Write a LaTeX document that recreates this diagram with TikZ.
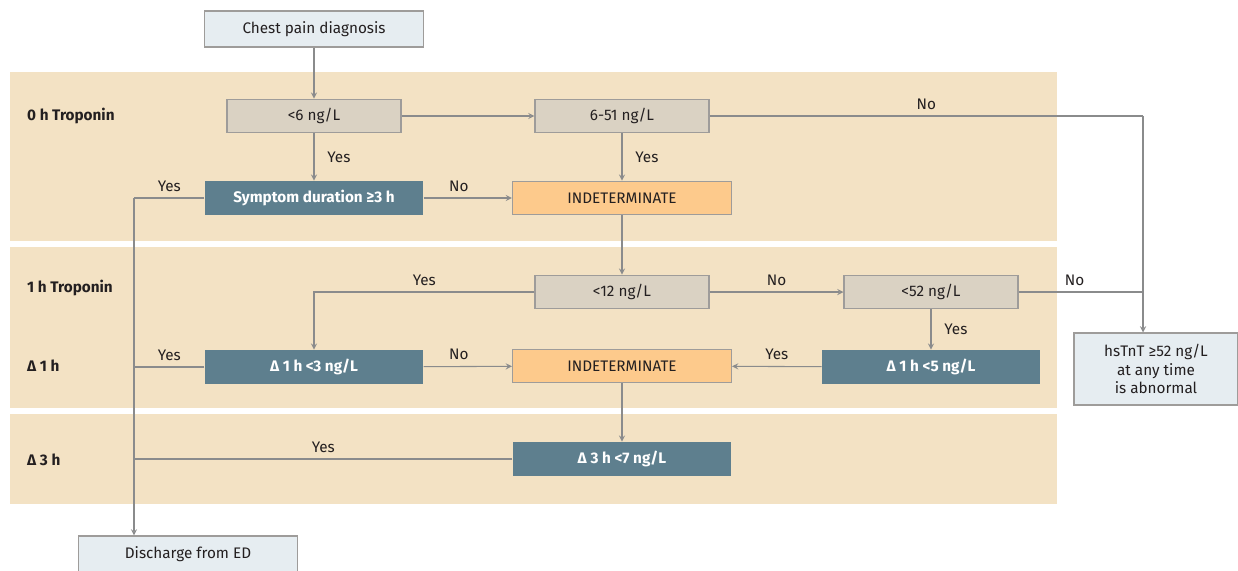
\documentclass[tikz,border=0pt]{standalone}
\usepackage{fontspec}
\setmainfont{Fira Sans}
\definecolor{band}{HTML}{F3E2C4}
\definecolor{greybox}{HTML}{DAD2C3}
\definecolor{tealbox}{HTML}{5E7F8E}
\definecolor{orangebox}{HTML}{FDCA8C}
\definecolor{bluebox}{HTML}{E6EDF1}
\definecolor{edgegrey}{HTML}{9E9C9A}
\definecolor{linegrey}{HTML}{8A8B8C}
\definecolor{ink}{HTML}{231F20}

\begin{document}
\begin{tikzpicture}[x=0.02cm,y=-0.02cm,font=\fontsize{8.7}{10.5}\selectfont,text=ink,
	basebox/.style={draw=edgegrey,line width=0.6pt,inner sep=0pt,minimum height=0.67cm},
	testbox/.style={basebox,fill=greybox,minimum width=3.48cm},
	rulebox/.style={basebox,draw=none,fill=tealbox,text=white,minimum width=4.36cm,font=\fontsize{8.7}{10.5}\selectfont\bfseries},
	indbox/.style={basebox,fill=orangebox,minimum width=4.38cm},
	endbox/.style={basebox,fill=bluebox,minimum width=4.38cm,minimum height=0.72cm},
	rowlabel/.style={anchor=west,font=\fontsize{8.7}{10.5}\selectfont\bfseries},
	flow/.style={draw=linegrey,line width=0.6pt},
	arr/.style={flow,-stealth}]
	\useasboundingbox (0,0) rectangle (1238,571);
	% time bands
	\fill[band] (10,72) rectangle (1057,241);
	\fill[band] (10,247) rectangle (1057,408);
	\fill[band] (10,414) rectangle (1057,504);
	\node[rowlabel] (r0) at (21,116) {0 h Troponin};
	\node[rowlabel] (r1) at (21,288) {1 h Troponin};
	\node[rowlabel] (r2) at (21,366) {Δ 1 h};
	\node[rowlabel] (r3) at (21,460) {Δ 3 h};
	% boxes
	\node[endbox] (start) at (314,29) {Chest pain diagnosis};
	\node[testbox] (t6) at (314,116) {<6 ng/L};
	\node[testbox] (t651) at (622,116) {6-51 ng/L};
	\node[rulebox] (sym) at (314,198) {Symptom duration ≥3 h};
	\node[indbox] (ind0) at (622,198) {INDETERMINATE};
	\node[testbox] (t12) at (622,292) {<12 ng/L};
	\node[testbox] (t52) at (931,292) {<52 ng/L};
	\node[rulebox] (d1a) at (314,367) {Δ 1 h <3 ng/L};
	\node[indbox] (ind1) at (622,366) {INDETERMINATE};
	\node[rulebox] (d1b) at (931,367) {Δ 1 h <5 ng/L};
	\node[rulebox] (d3) at (622,459) {Δ 3 h <7 ng/L};
	\node[endbox,minimum width=3.28cm,minimum height=1.44cm,align=center] (abn) at (1156,369) {hsTnT ≥52 ng/L\\at any time\\is abnormal};
	\node[endbox] (dis) at (188,554) {Discharge from ED};
	\coordinate (lft) at (134,198);
	\coordinate (rgt) at (1143,116);
	% connectors
	\draw[arr] (start) -- (t6);
	\draw[arr] (t6) -- (t651);
	\draw[arr] (t6) -- node[right,xshift=4pt] {Yes} (sym);
	\draw[arr] (t651) -- node[right,xshift=4pt] {Yes} (ind0);
	\draw[arr] (sym) -- node[above,pos=0.4] {No} (ind0);
	\draw[flow] (sym) -- node[above,pos=0.5] {Yes} (lft);
	\draw[arr] (lft) -- (lft |- dis.north);
	\draw[flow] (t651) -- node[above,pos=0.5] {No} (rgt);
	\draw[arr] (rgt) -- (rgt |- abn.north);
	\draw[arr] (ind0) -- (t12);
	\draw[arr] (t12) -- node[above,pos=0.5] {No} (t52);
	\draw[arr] (t12.west) -| node[above,pos=0.25] {Yes} (d1a.north);
	\draw[flow] (t52.east) -- node[above,pos=0.45] {No} (t52.east -| rgt);
	\draw[arr] (t52) -- node[right,xshift=4pt] {Yes} (d1b);
	\draw[arr] (d1a) -- node[above,pos=0.4] {No} (ind1);
	\draw[arr] (d1b) -- node[above,pos=0.5] {Yes} (ind1);
	\draw[flow] (d1a.west) -- node[above,pos=0.5] {Yes} (d1a.west -| lft);
	\draw[arr] (ind1) -- (d3);
	\draw[flow] (d3.west) -- node[above,pos=0.5] {Yes} (d3.west -| lft);
\end{tikzpicture}
\end{document}
